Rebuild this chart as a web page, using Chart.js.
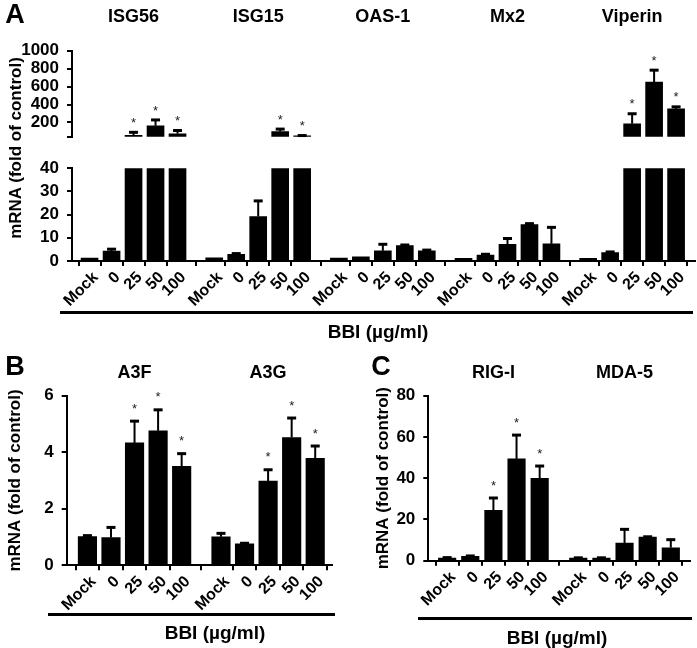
<!DOCTYPE html>
<html>
<head>
<meta charset="utf-8">
<script src="https://cdn.jsdelivr.net/npm/chart.js@4.4.1/dist/chart.umd.min.js"></script>
<style>
  body { margin: 0; background: #fff; }
  #wrap { position: relative; width: 697px; height: 648px; overflow: hidden;
          font-family: 'Liberation Sans', Arial, sans-serif; font-weight: bold; color: #000; }
  canvas { position: absolute; }
  .t { position: absolute; line-height: 1; white-space: nowrap; transform: translate(-50%, -50%); }
  .rule { position: absolute; height: 3px; background: #000; }
</style>
</head>
<body>
<div id="wrap">
  <canvas id="aTop" width="697" height="155" style="left:0;top:0"></canvas>
  <canvas id="aBot" width="697" height="170" style="left:0;top:150px"></canvas>
  <canvas id="pB" width="345" height="300" style="left:0;top:330px"></canvas>
  <canvas id="pC" width="352" height="300" style="left:345px;top:330px"></canvas>

  <div class="t" style="left:15px;top:14px;font-size:27px">A</div>
  <div class="t" style="left:15px;top:366px;font-size:27px">B</div>
  <div class="t" style="left:381px;top:366px;font-size:27px">C</div>
  <div class="t" style="left:15px;top:148px;font-size:17px;transform:translate(-50%,-50%) rotate(-90deg)">mRNA (fold of control)</div>

  <div class="rule" style="left:60px;top:311px;width:633px"></div>
  <div class="rule" style="left:48px;top:613px;width:287px"></div>
  <div class="rule" style="left:418px;top:617px;width:274px"></div>
  <div class="t" style="left:378px;top:331px;font-size:19px">BBI (µg/ml)</div>
  <div class="t" style="left:215px;top:632px;font-size:19px">BBI (µg/ml)</div>
  <div class="t" style="left:557px;top:637px;font-size:19px">BBI (µg/ml)</div>
</div>
<script>
// dose labels, same for every gene
const doses = ['Mock', '0', '25', '50', '100'];
const GAP = 5.67; // slots from one gene group to the next

// panel A
const genesA = ['ISG56', 'ISG15', 'OAS-1', 'Mx2', 'Viperin'];
const isg56 = [1.3, 4.3, 57, 163, 74];
const isg56Sd = [0, 0.8, 33, 65, 36];
const isg15 = [1.4, 2.9, 19.2, 99, 50];
const isg15Sd = [0, 0.3, 6.7, 27, 4];
const oas1 = [1.3, 1.8, 4.4, 6.6, 4.4];
const oas1Sd = [0, 0, 2.8, 0.3, 0.3];
const mx2 = [1.2, 2.6, 7.2, 15.7, 7.4];
const mx2Sd = [0, 0.3, 2.5, 0.4, 7.1];
const viperin = [1.2, 3.6, 186, 651, 351];
const viperinSd = [0, 0.3, 111, 132, 23];
const starsA = [[0,0,1,1,1], [0,0,0,1,1], [0,0,0,0,0], [0,0,0,0,0], [0,0,1,1,1]];
const BREAK = 40;
const ticksATop = [40, 200, 400, 600, 800, 1000];

// panel B
const genesB = ['A3F', 'A3G'];
const a3f = [1.02, 0.98, 4.33, 4.76, 3.5];
const a3fSd = [0.03, 0.36, 0.77, 0.74, 0.45];
const a3g = [1.01, 0.76, 2.98, 4.52, 3.78];
const a3gSd = [0.12, 0.02, 0.4, 0.69, 0.44];
const starsB = [[0,0,1,1,1], [0,0,1,1,1]];

// panel C
const genesC = ['RIG-I', 'MDA-5'];
const rigI = [1.3, 2.1, 24.4, 49.4, 39.9];
const rigISd = [0.2, 0.2, 6, 11.5, 6];
const mda5 = [1.3, 1.3, 8.6, 11.5, 6.3];
const mda5Sd = [0.1, 0.1, 6.6, 0.1, 3.9];
const starsC = [[0,0,1,1,1], [0,0,0,0,0]];

const FONT = "'Liberation Sans', Arial, sans-serif";

function series(means, sds, stars, keep) {
  const out = { points: [], sd: [], star: [], pos: [] };
  means.forEach((m, g) => {
    m.forEach((v, i) => {
      const x = g * GAP + i;
      out.pos.push(x);
      out.points.push({ x: x, y: keep(v) ? v : null });
      out.sd.push(sds[g][i]);
      out.star.push(stars[g][i]);
    });
  });
  return out;
}

const errorBars = {
  id: 'errorBars',
  afterDatasetsDraw(chart, args, opts) {
    const ctx = chart.ctx, y = chart.scales.y;
    chart.data.datasets.forEach((ds, di) => {
      chart.getDatasetMeta(di).data.forEach((bar, j) => {
        const v = ds.data[j].y;
        if (v === null || v > y.max) return;
        const hi = v + ds.sd[j];
        if (hi > y.max) return;
        const y0 = y.getPixelForValue(v), y1 = y.getPixelForValue(hi);
        ctx.save();
        ctx.strokeStyle = '#000';
        if (ds.sd[j] > 0) {
          ctx.lineWidth = 2;
          ctx.beginPath(); ctx.moveTo(bar.x, y0); ctx.lineTo(bar.x, y1); ctx.stroke();
          ctx.lineWidth = 3;
          ctx.beginPath(); ctx.moveTo(bar.x - 4.5, y1); ctx.lineTo(bar.x + 4.5, y1); ctx.stroke();
        }
        if (ds.star[j]) {
          ctx.fillStyle = '#222';
          ctx.font = '13px ' + FONT;
          ctx.textAlign = 'center';
          ctx.textBaseline = 'middle';
          ctx.fillText('*', bar.x, y1 - opts.starGap);
        }
        ctx.restore();
      });
    });
  }
};

const groupTitles = {
  id: 'groupTitles',
  afterDraw(chart, args, opts) {
    if (!opts.names) return;
    const ctx = chart.ctx, x = chart.scales.x;
    ctx.save();
    ctx.fillStyle = '#000';
    ctx.font = 'bold 18px ' + FONT;
    ctx.textAlign = 'center';
    ctx.textBaseline = 'middle';
    opts.names.forEach((n, g) => ctx.fillText(n, x.getPixelForValue(g * GAP + 2), opts.y));
    ctx.restore();
  }
};

function panel(id, cfg) {
  const s = cfg.series;
  return new Chart(document.getElementById(id), {
    type: 'bar',
    data: { datasets: [{ data: s.points, sd: s.sd, star: s.star,
      backgroundColor: '#000', borderWidth: 0, barThickness: cfg.barW }] },
    options: {
      responsive: false,
      animation: false,
      layout: { padding: cfg.padding },
      plugins: {
        legend: { display: false },
        tooltip: { enabled: false },
        errorBars: { starGap: cfg.starGap || 10 },
        groupTitles: cfg.titles || {}
      },
      scales: {
        x: {
          type: 'linear',
          display: cfg.showX,
          min: -cfg.padL,
          max: s.pos[s.pos.length - 1] + cfg.padR,
          offset: false,
          afterBuildTicks: a => { a.ticks = s.pos.map(v => ({ value: v })); },
          afterFit: a => { a.height = cfg.xH || 0; },
          grid: { drawOnChartArea: false, color: '#000', lineWidth: 2, tickLength: 5 },
          border: { color: '#000', width: 2 },
          ticks: {
            autoSkip: false, minRotation: 45, maxRotation: 45,
            padding: 2, labelOffset: 6, color: '#000',
            font: { family: FONT, size: 16, weight: 'bold' },
            callback: (v, i) => doses[i % doses.length]
          }
        },
        y: {
          min: cfg.yMin, max: cfg.yMax,
          afterBuildTicks: cfg.yTicks ? (a => { a.ticks = cfg.yTicks.map(v => ({ value: v })); }) : undefined,
          afterFit: a => { a.width = cfg.yW; },
          grid: { drawOnChartArea: false, color: '#000', lineWidth: 2, tickLength: 5 },
          border: { color: '#000', width: 2 },
          ticks: {
            autoSkip: false, stepSize: cfg.yStep, padding: 8, color: '#000',
            font: { family: FONT, size: 17, weight: 'bold' },
            callback: v => (cfg.hideTick && v === cfg.hideTick) ? '' : v
          },
          title: cfg.yTitle ? {
            display: true, text: cfg.yTitle, color: '#000', padding: { top: 5, bottom: 0 },
            font: { family: FONT, size: 17, weight: 'bold' }
          } : { display: false }
        }
      }
    },
    plugins: [errorBars, groupTitles]
  });
}

const meansA = [isg56, isg15, oas1, mx2, viperin];
const sdA = [isg56Sd, isg15Sd, oas1Sd, mx2Sd, viperinSd];

// upper part of the broken axis
panel('aTop', {
  series: series(meansA, sdA, starsA, v => v > BREAK),
  barW: 17, padL: 0.8, padR: 0.86, showX: false,
  padding: { top: 50.7, bottom: 7.3, left: 0, right: 2 },
  yMin: BREAK, yMax: 1000, yTicks: ticksATop, hideTick: BREAK, yW: 72,
  starGap: 9,
  titles: { names: genesA, y: 17 }
});

// lower part of the broken axis
panel('aBot', {
  series: series(meansA, sdA, starsA, v => true),
  barW: 17, padL: 0.8, padR: 0.86, showX: true, xH: 59,
  padding: { top: 14.3, bottom: 0, left: 0, right: 2 },
  yMin: 0, yMax: BREAK, yStep: 10, yW: 72
});

panel('pB', {
  series: series([a3f, a3g], [a3fSd, a3gSd], starsB, v => true),
  barW: 18.5, padL: 0.88, padR: 0.7, showX: true, xH: 64.7,
  padding: { top: 65.7, bottom: 0, left: 0, right: 13.3 },
  yMin: 0, yMax: 6, yStep: 2, yW: 66.7,
  yTitle: 'mRNA (fold of control)', starGap: 12,
  titles: { names: genesB, y: 43 }
});

panel('pC', {
  series: series([rigI, mda5], [rigISd, mda5Sd], starsC, v => true),
  barW: 17.5, padL: 0.815, padR: 0.83, showX: true, xH: 69.3,
  padding: { top: 65.7, bottom: 0, left: 23.4, right: 7 },
  yMin: 0, yMax: 80, yStep: 20, yW: 59.9,
  yTitle: 'mRNA (fold of control)', starGap: 12,
  titles: { names: genesC, y: 43 }
});
</script>
</body>
</html>
